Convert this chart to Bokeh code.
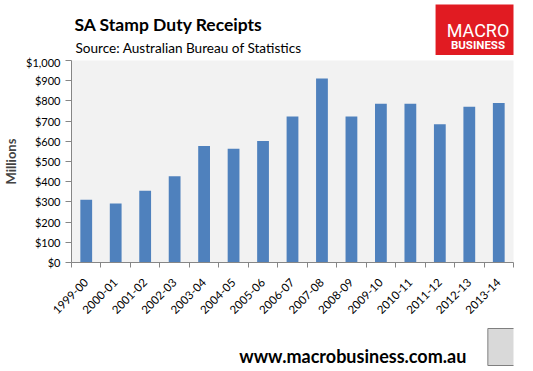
from bokeh.plotting import figure
from bokeh.layouts import column
from bokeh.models import Range1d, FixedTicker, NumeralTickFormatter, CustomJSTickFormatter
from bokeh.core.properties import value
from bokeh.embed import file_html
from bokeh.resources import INLINE

years = ["1999-00", "2000-01", "2001-02", "2002-03", "2003-04", "2004-05", "2005-06",
         "2006-07", "2007-08", "2008-09", "2009-10", "2010-11", "2011-12", "2012-13", "2013-14"]
receipts = [311, 292, 355, 427, 577, 563, 602, 723, 911, 723, 786, 786, 684, 771, 790]
y_ticks = list(range(0, 1001, 100))

title = "SA Stamp Duty Receipts"
subtitle = "Source: Australian Bureau of Statistics"
footer_text = "www.macrobusiness.com.au"

FONT = "Lato"
W = 517
BL, BR = 65, 4          # left / right borders shared by all stacked figures
HH, MH, FH = 55, 265, 48  # heights of header, chart, footer


def panel(height):
    # a figure whose data coordinates equal its own pixel coordinates (y downwards)
    f = figure(width=W, height=height, x_range=Range1d(BL, W - BR), y_range=Range1d(height, 0),
               toolbar_location=None, output_backend="svg",
               min_border_left=BL, min_border_right=BR, min_border_top=0, min_border_bottom=0,
               x_axis_type=None, y_axis_type=None)
    f.grid.visible = False
    f.outline_line_color = None
    return f


# ---------- header ----------
h = panel(HH)
h.text(x=[68], y=[23.5], text=[title], text_font=value(FONT), text_font_style="bold",
       text_font_size="17.5px", text_color="#000000", text_baseline="alphabetic")
h.text(x=[69], y=[47.5], text=[subtitle], text_font=value(FONT),
       text_font_size="13.6px", text_color="#000000", text_baseline="alphabetic")
h.quad(left=[434], right=[521], top=[4], bottom=[55], fill_color="#e11b22", line_color=None)
h.text(x=[477], y=[30], text=["MACRO"], text_font=value("Roboto"), text_font_size="18px",
       text_color="white", text_align="center", text_baseline="alphabetic")
h.text(x=[477], y=[44], text=["BUSINESS"], text_font=value("Roboto"), text_font_style="bold",
       text_font_size="11.5px", text_color="white", text_align="center", text_baseline="alphabetic")

# ---------- main chart ----------
xs = [i + 0.5 for i in range(len(years))]
p = figure(width=W, height=MH, x_range=Range1d(0, len(years)), y_range=Range1d(0, 1000),
           toolbar_location=None, output_backend="svg",
           min_border_left=BL, min_border_right=BR, min_border_top=5, min_border_bottom=54)
p.vbar(x=xs, top=receipts, width=0.4, fill_color="#4f81bd", line_color=None)
p.background_fill_color = "#f2f2f2"
p.border_fill_color = "white"
p.outline_line_color = None
p.grid.visible = False

ax_col = "#868686"
p.yaxis.ticker = FixedTicker(ticks=y_ticks)
p.yaxis.formatter = NumeralTickFormatter(format="$0,0")
p.yaxis.axis_label = "Millions"
p.yaxis.axis_label_text_font = FONT
p.yaxis.axis_label_text_font_style = "bold"
p.yaxis.axis_label_text_font_size = "13px"
p.yaxis.axis_label_standoff = 4
p.yaxis.major_label_text_font = FONT
p.yaxis.major_label_text_font_size = "11px"
p.yaxis.major_label_text_color = "#000000"
p.yaxis.major_label_standoff = 5
p.yaxis.axis_line_color = ax_col
p.yaxis.major_tick_line_color = ax_col
p.yaxis.major_tick_out = 6
p.yaxis.major_tick_in = 0
p.yaxis.minor_tick_line_color = None

p.xaxis.ticker = FixedTicker(ticks=xs, minor_ticks=list(range(len(years) + 1)))
p.xaxis.formatter = CustomJSTickFormatter(args=dict(labels=years),
                                          code="return labels[Math.floor(tick)] || '';")
p.xaxis.major_label_orientation = 0.785398
p.xaxis.major_label_text_font = FONT
p.xaxis.major_label_text_font_size = "11.5px"
p.xaxis.major_label_text_color = "#000000"
p.xaxis.major_label_standoff = 13
p.xaxis.axis_line_color = ax_col
p.xaxis.major_tick_out = 0
p.xaxis.major_tick_in = 0
p.xaxis.minor_tick_line_color = ax_col
p.xaxis.minor_tick_out = 5
p.xaxis.minor_tick_in = 0

# ---------- footer ----------
f = panel(FH)
f.text(x=[235], y=[35], text=[footer_text], text_font=value(FONT), text_font_style="bold",
       text_font_size="18px", text_color="#000000", text_baseline="alphabetic")
f.quad(left=[487], right=[519], top=[8], bottom=[45], fill_color="#d9d9d9",
       line_color="#7f7f7f", line_width=1)

layout = column(h, p, f, spacing=0)
open("out.html", "w").write(file_html(layout, INLINE))
